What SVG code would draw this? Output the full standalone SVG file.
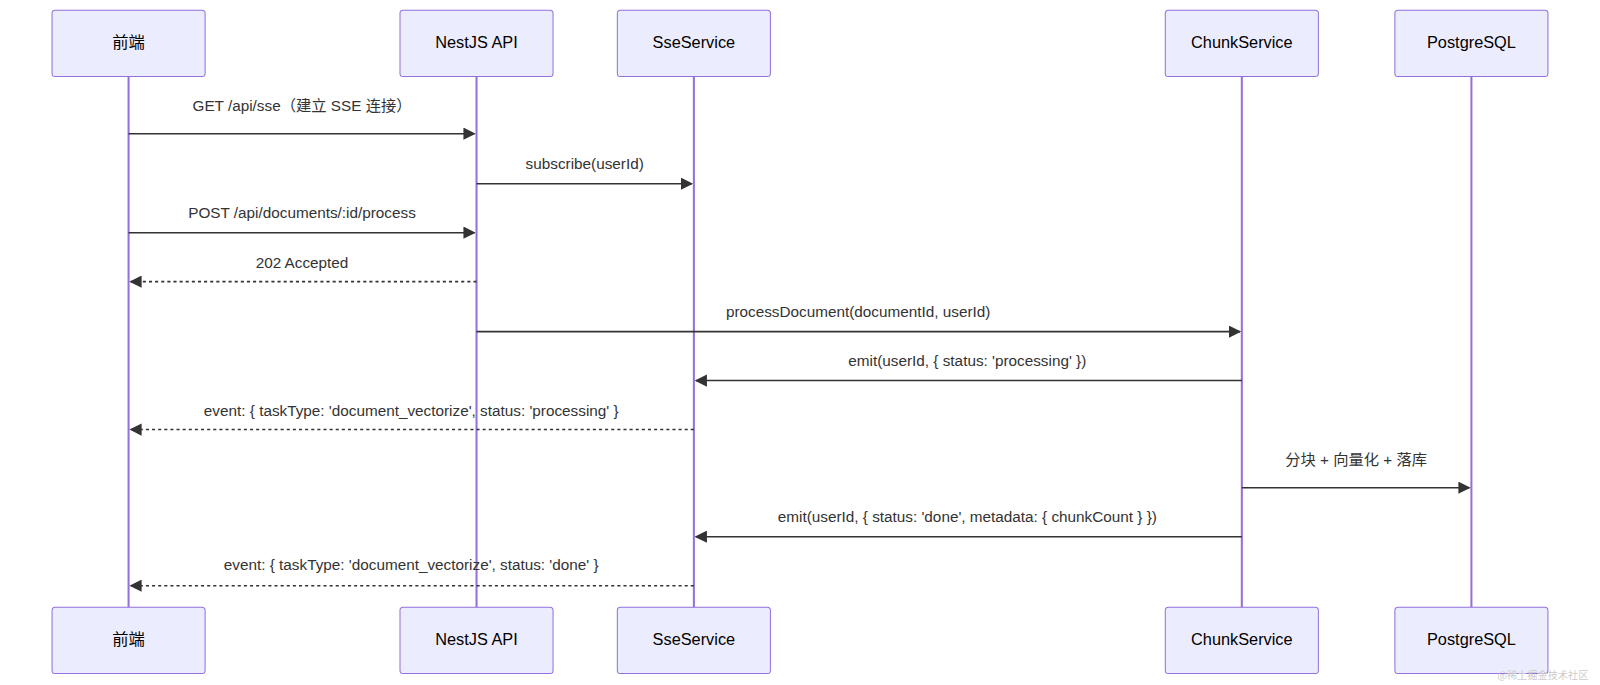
<svg xmlns="http://www.w3.org/2000/svg" width="1600" height="685" viewBox="0 0 1600 685">
<style>
.actor rect{fill:#ECECFF;stroke:#9370DB;stroke-width:1}
.actor text{font-family:"Liberation Sans","Noto Sans CJK SC",sans-serif;font-size:16px;text-anchor:middle;dominant-baseline:middle;fill:#000}
.life{stroke:#9370DB;stroke-width:2}
.msg{stroke:#333;stroke-width:1.5;fill:none}
.dash{stroke-dasharray:3,3}
.lbl{font-family:"Liberation Sans","Noto Sans CJK SC",sans-serif;font-size:15px;text-anchor:middle;fill:#333}
</style>
<defs>
<marker id="ah" viewBox="0 0 10 10" refX="9" refY="5" markerWidth="8" markerHeight="8" orient="auto"><path d="M0,0L10,5L0,10z" fill="#333"/></marker>
</defs>
<g transform="scale(1.0204)">
<g id="lifelines">
<line class="life" x1="126" y1="75" x2="126" y2="595"/>
<line class="life" x1="467" y1="75" x2="467" y2="595"/>
<line class="life" x1="680" y1="75" x2="680" y2="595"/>
<line class="life" x1="1217" y1="75" x2="1217" y2="595"/>
<line class="life" x1="1442" y1="75" x2="1442" y2="595"/>
</g>
<g id="actor-frontend" class="actor"><rect x="51" y="10" width="150" height="65" rx="3"/><text x="126" y="43">前端</text><rect x="51" y="595" width="150" height="65" rx="3"/><text x="126" y="628">前端</text></g>
<g id="actor-nest" class="actor"><rect x="392" y="10" width="150" height="65" rx="3"/><text x="467" y="43">NestJS API</text><rect x="392" y="595" width="150" height="65" rx="3"/><text x="467" y="628">NestJS API</text></g>
<g id="actor-sse" class="actor"><rect x="605" y="10" width="150" height="65" rx="3"/><text x="680" y="43">SseService</text><rect x="605" y="595" width="150" height="65" rx="3"/><text x="680" y="628">SseService</text></g>
<g id="actor-chunk" class="actor"><rect x="1142" y="10" width="150" height="65" rx="3"/><text x="1217" y="43">ChunkService</text><rect x="1142" y="595" width="150" height="65" rx="3"/><text x="1217" y="628">ChunkService</text></g>
<g id="actor-pg" class="actor"><rect x="1367" y="10" width="150" height="65" rx="3"/><text x="1442" y="43">PostgreSQL</text><rect x="1367" y="595" width="150" height="65" rx="3"/><text x="1442" y="628">PostgreSQL</text></g>
<g id="connectors">
<line class="msg" x1="126" y1="131" x2="465" y2="131" marker-end="url(#ah)"/>
<text class="lbl" x="296" y="109">GET /api/sse（建立 SSE 连接）</text>
<line class="msg" x1="467" y1="180" x2="678" y2="180" marker-end="url(#ah)"/>
<text class="lbl" x="573" y="166">subscribe(userId)</text>
<line class="msg" x1="126" y1="228" x2="465" y2="228" marker-end="url(#ah)"/>
<text class="lbl" x="296" y="214">POST /api/documents/:id/process</text>
<line class="msg dash" x1="467" y1="276" x2="128" y2="276" marker-end="url(#ah)"/>
<text class="lbl" x="296" y="263">202 Accepted</text>
<line class="msg" x1="467" y1="325" x2="1215" y2="325" marker-end="url(#ah)"/>
<text class="lbl" x="841" y="311">processDocument(documentId, userId)</text>
<line class="msg" x1="1217" y1="373" x2="682" y2="373" marker-end="url(#ah)"/>
<text class="lbl" x="948" y="359">emit(userId, { status: 'processing' })</text>
<line class="msg dash" x1="680" y1="421" x2="128" y2="421" marker-end="url(#ah)"/>
<text class="lbl" x="403" y="408">event: { taskType: 'document_vectorize', status: 'processing' }</text>
<line class="msg" x1="1217" y1="478" x2="1440" y2="478" marker-end="url(#ah)"/>
<text class="lbl" x="1329" y="456">分块 + 向量化 + 落库</text>
<line class="msg" x1="1217" y1="526" x2="682" y2="526" marker-end="url(#ah)"/>
<text class="lbl" x="948" y="512">emit(userId, { status: 'done', metadata: { chunkCount } })</text>
<line class="msg dash" x1="680" y1="574" x2="128" y2="574" marker-end="url(#ah)"/>
<text class="lbl" x="403" y="559">event: { taskType: 'document_vectorize', status: 'done' }</text>
</g>
<text x="1512" y="665" font-family="'Noto Sans CJK SC',sans-serif" font-size="10" fill="#ccc" text-anchor="middle">@稀土掘金技术社区</text>
</g>
</svg>
